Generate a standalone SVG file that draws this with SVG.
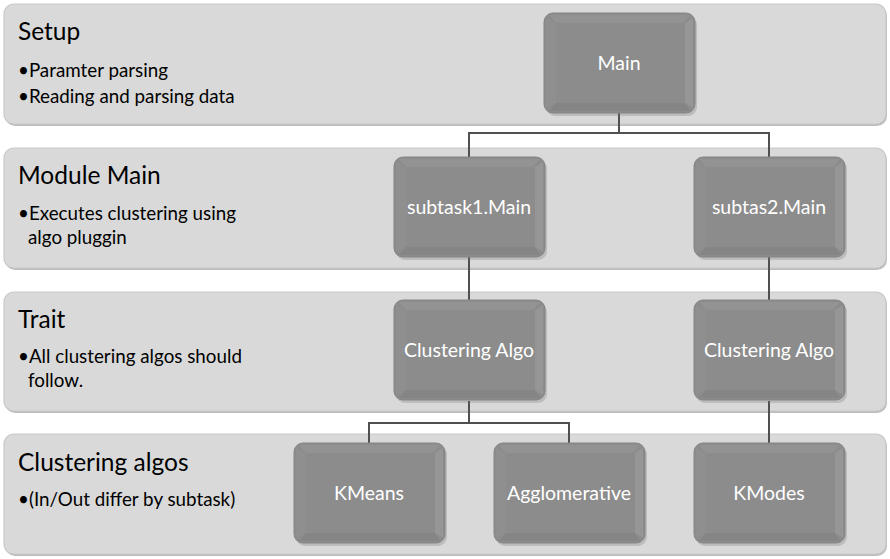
<svg xmlns="http://www.w3.org/2000/svg" width="890" height="559" viewBox="0 0 890 559">
<defs>
<style>
.band{fill:#d9d9d9;stroke:#c9c9c9;stroke-width:1.2}
.bshadow{fill:#bcbcbc}
.title{font-family:Lato,"Open Sans","Liberation Sans",sans-serif;font-size:24.5px;fill:#000}
.bul{font-family:Lato,"Open Sans","Liberation Sans",sans-serif;font-size:18.8px;fill:#000}
.nshadow{fill:#7a7a7a;opacity:0.3}
.nbase{fill:#8c8c8c;stroke:#858585;stroke-width:1}
.bt{fill:#939393}
.bl{fill:#8f8f8f}
.br{fill:#969696}
.bb{fill:#858585}
.ninner{fill:#8c8c8c}
.ntext{font-family:Lato,"Open Sans","Liberation Sans",sans-serif;font-size:19.5px;fill:#fff;text-anchor:middle}
.conn{fill:none;stroke:#505050;stroke-width:2}
</style>
<g id="node-shape">
<rect class="nshadow" x="2" y="3" width="151" height="100" rx="9"/>
<rect class="nbase" x="0" y="0" width="151" height="100" rx="9"/>
<polygon class="bt" points="5,2 146,2 139,10 12,10"/>
<polygon class="bl" points="2,5 12,10 12,90 2,95"/>
<polygon class="br" points="149,5 149,95 141,90 141,10"/>
<polygon class="bb" points="5,98 12,90 141,90 146,98"/>
<rect class="ninner" x="12" y="10" width="129" height="80"/>
</g>
</defs>

<g id="band-setup">
<rect class="bshadow" x="5" y="6" width="882" height="120" rx="10"/>
<rect class="band" x="4" y="4" width="882" height="120" rx="10"/>
<text class="title" x="18" y="40">Setup</text>
<text class="bul" x="18" y="77">•Paramter parsing</text>
<text class="bul" x="18" y="103">•Reading and parsing data</text>
</g>
<g id="band-module">
<rect class="bshadow" x="5" y="150" width="882" height="120" rx="10"/>
<rect class="band" x="4" y="148" width="882" height="120" rx="10"/>
<text class="title" x="18" y="184">Module Main</text>
<text class="bul" x="18" y="220">•Executes clustering using</text>
<text class="bul" x="28" y="244">algo pluggin</text>
</g>
<g id="band-trait">
<rect class="bshadow" x="5" y="294" width="882" height="119" rx="10"/>
<rect class="band" x="4" y="292" width="882" height="119" rx="10"/>
<text class="title" x="18" y="328">Trait</text>
<text class="bul" x="18" y="363">•All clustering algos should</text>
<text class="bul" x="28" y="387">follow.</text>
</g>
<g id="band-algos">
<rect class="bshadow" x="5" y="436" width="882" height="120" rx="10"/>
<rect class="band" x="4" y="434" width="882" height="120" rx="10"/>
<text class="title" x="18" y="471">Clustering algos</text>
<text class="bul" x="18" y="506">•(In/Out differ by subtask)</text>
</g>

<g id="connectors">
<polyline class="conn" points="619,113 619,133 469,133 469,157"/>
<polyline class="conn" points="619,133 769,133 769,157"/>
<line class="conn" x1="469" y1="257" x2="469" y2="300"/>
<line class="conn" x1="769" y1="257" x2="769" y2="300"/>
<polyline class="conn" points="469,401 469,423 369,423 369,443"/>
<polyline class="conn" points="469,423 569,423 569,443"/>
<line class="conn" x1="769" y1="401" x2="769" y2="443"/>
</g>

<g id="node-main"><use href="#node-shape" x="544" y="13"/><text class="ntext" x="619" y="70">Main</text></g>
<g id="node-subtask1"><use href="#node-shape" x="394" y="157"/><text class="ntext" x="469" y="214">subtask1.Main</text></g>
<g id="node-subtas2"><use href="#node-shape" x="694" y="157"/><text class="ntext" x="769" y="214">subtas2.Main</text></g>
<g id="node-algo1"><use href="#node-shape" x="394" y="300"/><text class="ntext" x="469" y="357">Clustering Algo</text></g>
<g id="node-algo2"><use href="#node-shape" x="694" y="300"/><text class="ntext" x="769" y="357">Clustering Algo</text></g>
<g id="node-kmeans"><use href="#node-shape" x="294" y="443"/><text class="ntext" x="369" y="500">KMeans</text></g>
<g id="node-agglo"><use href="#node-shape" x="494" y="443"/><text class="ntext" x="569" y="500">Agglomerative</text></g>
<g id="node-kmodes"><use href="#node-shape" x="694" y="443"/><text class="ntext" x="769" y="500">KModes</text></g>
</svg>
